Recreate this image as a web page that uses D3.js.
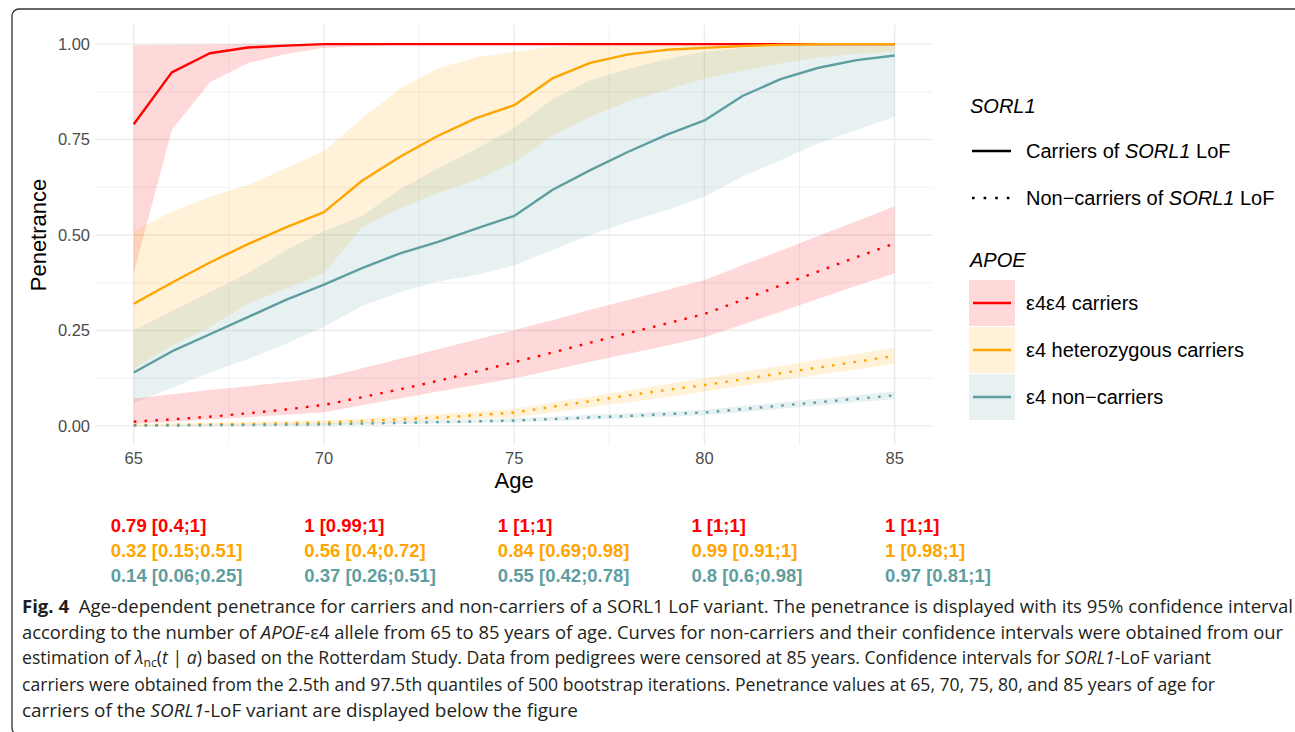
<!DOCTYPE html>
<html>
<head>
<meta charset="utf-8">
<script src="https://cdn.jsdelivr.net/npm/d3@7"></script>
<style>
	body { margin: 0; background: #fff; }
	svg { display: block; }
</style>
</head>
<body>
<svg id="chart" width="1295" height="732"></svg>
<script>

// ages on the x axis
var ages = [65, 66, 67, 68, 69, 70, 71, 72, 73, 74, 75, 76, 77, 78, 79, 80, 81, 82, 83, 84, 85];

// carriers of SORL1 LoF (solid lines + ribbons)
var e4e4Mid = [0.79, 0.926, 0.976, 0.991, 0.996, 1, 1, 1, 1, 1, 1, 1, 1, 1, 1, 1, 1, 1, 1, 1, 1];
var e4e4Lo  = [0.40, 0.775, 0.90, 0.95, 0.974, 0.99, 0.995, 0.998, 0.999, 1, 1, 1, 1, 1, 1, 1, 1, 1, 1, 1, 1];
var e4e4Hi  = [0.997, 0.998, 0.999, 1, 1, 1, 1, 1, 1, 1, 1, 1, 1, 1, 1, 1, 1, 1, 1, 1, 1];

var hetMid = [0.32, 0.375, 0.428, 0.476, 0.52, 0.56, 0.642, 0.705, 0.76, 0.806, 0.84, 0.91, 0.951, 0.973, 0.985, 0.99, 0.995, 0.998, 1, 1, 1];
var hetLo  = [0.15, 0.21, 0.26, 0.32, 0.36, 0.40, 0.52, 0.57, 0.61, 0.645, 0.69, 0.76, 0.81, 0.85, 0.88, 0.91, 0.93, 0.95, 0.965, 0.975, 0.98];
var hetHi  = [0.51, 0.561, 0.60, 0.631, 0.675, 0.72, 0.806, 0.884, 0.937, 0.965, 0.98, 0.993, 0.998, 1, 1, 1, 1, 1, 1, 1, 1];

var nonMid = [0.14, 0.195, 0.24, 0.285, 0.33, 0.37, 0.413, 0.452, 0.482, 0.517, 0.55, 0.618, 0.67, 0.718, 0.762, 0.80, 0.864, 0.908, 0.938, 0.958, 0.97];
var nonLo  = [0.06, 0.10, 0.14, 0.175, 0.215, 0.26, 0.314, 0.351, 0.378, 0.395, 0.42, 0.461, 0.50, 0.535, 0.565, 0.60, 0.653, 0.696, 0.74, 0.775, 0.81];
var nonHi  = [0.25, 0.30, 0.35, 0.40, 0.46, 0.51, 0.55, 0.62, 0.675, 0.725, 0.78, 0.855, 0.905, 0.935, 0.96, 0.98, 0.99, 0.995, 1, 1, 1];

// non-carriers of SORL1 LoF (dotted lines + ribbons)
var e4e4NcMid = [0.011, 0.017, 0.024, 0.033, 0.043, 0.055, 0.075, 0.096, 0.118, 0.142, 0.167, 0.192, 0.218, 0.243, 0.268, 0.293, 0.33, 0.368, 0.405, 0.442, 0.478];
var e4e4NcLo  = [0.005, 0.011, 0.017, 0.023, 0.029, 0.036, 0.054, 0.072, 0.09, 0.107, 0.125, 0.146, 0.168, 0.189, 0.21, 0.232, 0.265, 0.299, 0.333, 0.367, 0.40];
var e4e4NcHi  = [0.072, 0.083, 0.094, 0.104, 0.115, 0.126, 0.151, 0.176, 0.201, 0.226, 0.251, 0.277, 0.304, 0.33, 0.356, 0.382, 0.421, 0.459, 0.498, 0.536, 0.575];

var hetNcMid = [0.002, 0.003, 0.004, 0.005, 0.007, 0.009, 0.013, 0.017, 0.022, 0.028, 0.035, 0.05, 0.065, 0.08, 0.094, 0.107, 0.122, 0.138, 0.153, 0.168, 0.183];
var hetNcLo  = [0, 0.001, 0.001, 0.002, 0.003, 0.004, 0.007, 0.01, 0.014, 0.018, 0.022, 0.035, 0.049, 0.062, 0.076, 0.09, 0.105, 0.119, 0.134, 0.148, 0.163];
var hetNcHi  = [0.005, 0.006, 0.008, 0.01, 0.012, 0.014, 0.019, 0.025, 0.031, 0.038, 0.045, 0.061, 0.077, 0.093, 0.109, 0.125, 0.141, 0.157, 0.173, 0.189, 0.205];

var nonNcMid = [0.001, 0.001, 0.002, 0.002, 0.003, 0.004, 0.006, 0.008, 0.01, 0.012, 0.014, 0.018, 0.022, 0.026, 0.031, 0.035, 0.044, 0.053, 0.062, 0.071, 0.08];
var nonNcLo  = [0, 0, 0.001, 0.001, 0.001, 0.002, 0.003, 0.005, 0.006, 0.008, 0.009, 0.013, 0.017, 0.02, 0.024, 0.028, 0.036, 0.045, 0.053, 0.062, 0.07];
var nonNcHi  = [0.002, 0.003, 0.004, 0.005, 0.006, 0.007, 0.01, 0.012, 0.015, 0.017, 0.02, 0.024, 0.029, 0.033, 0.038, 0.042, 0.052, 0.061, 0.071, 0.08, 0.09];

// ticks
var ageTicks = [65, 70, 75, 80, 85];
var ageMinor = [67.5, 72.5, 77.5, 82.5];
var penTicks = [0, 0.25, 0.5, 0.75, 1];
var penMinor = [0.125, 0.375, 0.625, 0.875];

// legend labels
var apoeLabels = ["\u03b54\u03b54 carriers", "\u03b54 heterozygous carriers", "\u03b54 non\u2212carriers"];

// table under the plot
var tableAges = [65, 70, 75, 80, 85];
var tableE4E4 = ["0.79 [0.4;1]", "1 [0.99;1]", "1 [1;1]", "1 [1;1]", "1 [1;1]"];
var tableHet  = ["0.32 [0.15;0.51]", "0.56 [0.4;0.72]", "0.84 [0.69;0.98]", "0.99 [0.91;1]", "1 [0.98;1]"];
var tableNon  = ["0.14 [0.06;0.25]", "0.37 [0.26;0.51]", "0.55 [0.42;0.78]", "0.8 [0.6;0.98]", "0.97 [0.81;1]"];

var colors = ["#FF0000", "#FFA500", "#5F9EA0"];
var sans = "'Liberation Sans', Arial, Helvetica, sans-serif";

var svg = d3.select("#chart");

// figure frame
svg.append("rect")
	.attr("x", 12).attr("y", 9)
	.attr("width", 1292).attr("height", 726)
	.attr("rx", 7)
	.attr("fill", "none")
	.attr("stroke", "#333")
	.attr("stroke-width", 1.3);

var x = d3.scaleLinear().domain([64, 86]).range([95.7, 932.7]);
var y = d3.scaleLinear().domain([-0.05, 1.05]).range([445, 25]);

var grid = svg.append("g").attr("class", "grid");

function hLines(vals, w)
{
	grid.selectAll(null).data(vals).enter().append("line")
		.attr("x1", x.range()[0]).attr("x2", x.range()[1])
		.attr("y1", function(d){ return y(d); })
		.attr("y2", function(d){ return y(d); })
		.attr("stroke", "#EBEBEB")
		.attr("stroke-width", w);
}
function vLines(vals, w)
{
	grid.selectAll(null).data(vals).enter().append("line")
		.attr("y1", y.range()[0]).attr("y2", y.range()[1])
		.attr("x1", function(d){ return x(d); })
		.attr("x2", function(d){ return x(d); })
		.attr("stroke", "#EBEBEB")
		.attr("stroke-width", w);
}
hLines(penMinor, 0.7);
vLines(ageMinor, 0.7);
hLines(penTicks, 1.4);
vLines(ageTicks, 1.4);

// series
var series = [
	{ mid: e4e4Mid, lo: e4e4Lo, hi: e4e4Hi, color: colors[0], dotted: false },
	{ mid: hetMid, lo: hetLo, hi: hetHi, color: colors[1], dotted: false },
	{ mid: nonMid, lo: nonLo, hi: nonHi, color: colors[2], dotted: false },
	{ mid: e4e4NcMid, lo: e4e4NcLo, hi: e4e4NcHi, color: colors[0], dotted: true },
	{ mid: hetNcMid, lo: hetNcLo, hi: hetNcHi, color: colors[1], dotted: true },
	{ mid: nonNcMid, lo: nonNcLo, hi: nonNcHi, color: colors[2], dotted: true }
];

var area = d3.area()
	.x(function(d){ return x(d.age); })
	.y0(function(d){ return y(d.lo); })
	.y1(function(d){ return y(d.hi); });

var line = d3.line()
	.x(function(d){ return x(d.age); })
	.y(function(d){ return y(d.mid); });

function rows(s)
{
	return ages.map(function(a, i)
	{
		return { age: a, mid: s.mid[i], lo: s.lo[i], hi: s.hi[i] };
	});
}

svg.append("g").selectAll("path").data(series).enter().append("path")
	.attr("d", function(d){ return area(rows(d)); })
	.attr("fill", function(d){ return d.color; })
	.attr("fill-opacity", 0.15);

svg.append("g").selectAll("path").data(series).enter().append("path")
	.attr("d", function(d){ return line(rows(d)); })
	.attr("fill", "none")
	.attr("stroke", function(d){ return d.color; })
	.attr("stroke-width", 2.4)
	.attr("stroke-linejoin", "round")
	.attr("stroke-dasharray", function(d){ return d.dotted ? "2.6,8.2" : null; });

// axes text
var axisColor = "#4D4D4D";
svg.append("g").selectAll("text").data(penTicks).enter().append("text")
	.text(function(d){ return d3.format(".2f")(d); })
	.attr("x", 90)
	.attr("y", function(d){ return y(d) + 5.8; })
	.attr("text-anchor", "end")
	.attr("font-family", sans)
	.attr("font-size", "16.5px")
	.attr("fill", axisColor);

svg.append("g").selectAll("text").data(ageTicks).enter().append("text")
	.text(function(d){ return d; })
	.attr("x", function(d){ return x(d); })
	.attr("y", 464)
	.attr("text-anchor", "middle")
	.attr("font-family", sans)
	.attr("font-size", "16.5px")
	.attr("fill", axisColor);

svg.append("text")
	.text("Age")
	.attr("x", x(75)).attr("y", 488)
	.attr("text-anchor", "middle")
	.attr("font-family", sans)
	.attr("font-size", "22px")
	.attr("fill", "#000");

svg.append("text")
	.text("Penetrance")
	.attr("transform", "translate(46," + y(0.5) + ") rotate(-90)")
	.attr("text-anchor", "middle")
	.attr("font-family", sans)
	.attr("font-size", "22px")
	.attr("fill", "#000");

// legend
var leg = svg.append("g").attr("font-family", sans).attr("font-size", "20px").attr("fill", "#000");

leg.append("text").text("SORL1").attr("x", 970).attr("y", 113).attr("font-style", "italic");

var lt = [{ label: "Carriers of ", dotted: false, y: 151 }, { label: "Non\u2212carriers of ", dotted: true, y: 198 }];
lt.forEach(function(d)
{
	leg.append("line")
		.attr("x1", 972).attr("x2", 1011)
		.attr("y1", d.y).attr("y2", d.y)
		.attr("stroke", "#000")
		.attr("stroke-width", 2.4)
		.attr("stroke-dasharray", d.dotted ? "2.6,9" : null);
	var t = leg.append("text").attr("x", 1026).attr("y", d.y + 7);
	t.append("tspan").text(d.label);
	t.append("tspan").text("SORL1").attr("font-style", "italic");
	t.append("tspan").text(" LoF");
});

leg.append("text").text("APOE").attr("x", 970).attr("y", 267).attr("font-style", "italic");

apoeLabels.forEach(function(lab, i)
{
	var top = 280 + i * 47;
	leg.append("rect")
		.attr("x", 969).attr("y", top)
		.attr("width", 46).attr("height", 46)
		.attr("fill", colors[i])
		.attr("fill-opacity", 0.15);
	leg.append("line")
		.attr("x1", 973).attr("x2", 1011)
		.attr("y1", top + 23).attr("y2", top + 23)
		.attr("stroke", colors[i])
		.attr("stroke-width", 2.4);
	leg.append("text").text(lab).attr("x", 1026).attr("y", top + 30);
});

// values table
var tx = d3.scaleLinear().domain([65, 85]).range([110.7, 885]);
[tableE4E4, tableHet, tableNon].forEach(function(row, r)
{
	svg.append("g").selectAll("text").data(row).enter().append("text")
		.text(function(d){ return d; })
		.attr("x", function(d, i){ return tx(tableAges[i]); })
		.attr("y", 531.7 + r * 25)
		.attr("font-family", sans)
		.attr("font-weight", "bold")
		.attr("font-size", "18.5px")
		.attr("fill", colors[r]);
});

// caption
var cap = svg.append("g")
	.attr("font-family", "'Open Sans', 'Noto Sans', sans-serif")
	.attr("font-size", "17.5px")
	.attr("fill", "#231F20");

function capLine(yy, width, parts)
{
	var t = cap.append("text").attr("x", 22).attr("y", yy);
	parts.forEach(function(p)
	{
		var s = t.append("tspan").text(p.t);
		if (p.i) s.attr("font-style", "italic");
		if (p.b) s.attr("font-weight", "bold");
		if (p.dx) s.attr("dx", p.dx);
		if (p.sub) s.attr("font-size", "12px").attr("dy", 3);
		if (p.up) s.attr("dy", -3);
	});
	if (width) t.attr("textLength", width).attr("lengthAdjust", "spacingAndGlyphs");
}

capLine(613, 1271, [
	{ t: "Fig. 4", b: true },
	{ t: "Age-dependent penetrance for carriers and non-carriers of a SORL1 LoF variant. The penetrance is displayed with its 95% confidence interval", dx: 9 }
]);
capLine(639, 1261, [
	{ t: "according to the number of " },
	{ t: "APOE", i: true },
	{ t: "-\u03b54 allele from 65 to 85 years of age. Curves for non-carriers and their confidence intervals were obtained from our" }
]);
capLine(664, 1189, [
	{ t: "estimation of " },
	{ t: "\u03bb", i: true },
	{ t: "nc", sub: true },
	{ t: "(", up: true },
	{ t: "t", i: true },
	{ t: " | " },
	{ t: "a", i: true },
	{ t: ") based on the Rotterdam Study. Data from pedigrees were censored at 85 years. Confidence intervals for " },
	{ t: "SORL1", i: true },
	{ t: "-LoF variant" }
]);
capLine(691, 1193, [
	{ t: "carriers were obtained from the 2.5th and 97.5th quantiles of 500 bootstrap iterations. Penetrance values at 65, 70, 75, 80, and 85 years of age for" }
]);
capLine(717, 556, [
	{ t: "carriers of the " },
	{ t: "SORL1", i: true },
	{ t: "-LoF variant are displayed below the figure" }
]);

</script>
</body>
</html>
